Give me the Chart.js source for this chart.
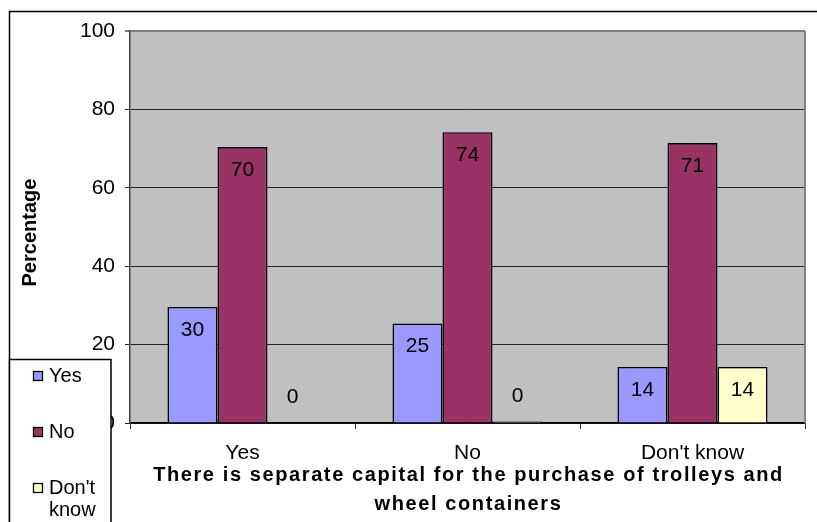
<!DOCTYPE html>
<html>
<head>
<meta charset="utf-8">
<script src="https://cdn.jsdelivr.net/npm/chart.js@4"></script>
<style>
  html, body { margin: 0; padding: 0; background: #fff; }
  #wrap { position: relative; width: 817px; height: 522px; }
</style>
</head>
<body>
<div id="wrap"><canvas id="c" width="817" height="522"></canvas></div>
<script>
const categories = ['Yes', 'No', "Don't know"];
const seriesNames = ['Yes', 'No', "Don't know"];
const yesValues = [29.6, 25.4, 14.3];
const noValues = [70.4, 74.2, 71.4];
const dontKnowValues = [0, 0.4, 14.3];
const yTicks = [0, 20, 40, 60, 80, 100];
const xTitleLines = ['There is separate capital for the purchase of trolleys and', 'wheel containers'];
const yTitle = 'Percentage';
const seriesColors = ['#9999FF', '#993366', '#FFFFCC'];

const FONT = "'Liberation Sans', Arial, sans-serif";

const bgPlugin = {
  id: 'bg',
  beforeDraw(chart) {
    const { ctx, chartArea: a } = chart;
    ctx.save();
    ctx.fillStyle = '#C0C0C0';
    ctx.fillRect(a.left, a.top, a.right - a.left, a.bottom - a.top);
    ctx.restore();
  },
  afterDraw(chart) {
    const { ctx, chartArea: a } = chart;
    ctx.save();
    // right border of plot
    ctx.strokeStyle = '#808080';
    ctx.lineWidth = 2;
    ctx.beginPath();
    ctx.moveTo(a.right, a.top);
    ctx.lineTo(a.right, a.bottom);
    ctx.stroke();
    // x axis title (two lines, spaced letters)
    ctx.fillStyle = '#000';
    ctx.font = 'bold 20px ' + FONT;
    ctx.textAlign = 'center';
    ctx.textBaseline = 'middle';
    if ('letterSpacing' in ctx) ctx.letterSpacing = '1.6px';
    const cx = (a.left + a.right) / 2 + 1;
    xTitleLines.forEach((t, i) => ctx.fillText(t, cx, 475 + i * 29));
    if ('letterSpacing' in ctx) ctx.letterSpacing = '0px';
    // outer frame
    ctx.strokeStyle = '#000';
    ctx.lineWidth = 1.5;
    ctx.beginPath();
    ctx.moveTo(9.5, 522);
    ctx.lineTo(9.5, 11.5);
    ctx.lineTo(817, 11.5);
    ctx.stroke();
    // legend box
    ctx.fillStyle = '#fff';
    ctx.fillRect(9.5, 359.5, 101.5, 200);
    ctx.strokeRect(9.5, 359.5, 101.5, 200);
    const centers = [376, 432, 488];
    ctx.font = '20px ' + FONT;
    ctx.textBaseline = 'middle';
    ctx.textAlign = 'left';
    chart.data.datasets.forEach((ds, i) => {
      const cy = centers[i];
      ctx.fillStyle = ds.backgroundColor;
      ctx.fillRect(33.5, cy - 4.5, 9, 9);
      ctx.lineWidth = 1.3;
      ctx.strokeStyle = '#000';
      ctx.strokeRect(33.5, cy - 4.5, 9, 9);
      ctx.fillStyle = '#000';
      const words = ds.label.split(' ');
      if (ctx.measureText(ds.label).width > 58 && words.length > 1) {
        ctx.fillText(words[0], 49, cy);
        ctx.fillText(words.slice(1).join(' '), 49, cy + 22);
      } else {
        ctx.fillText(ds.label, 49, cy);
      }
    });
    ctx.restore();
  },
  afterDatasetsDraw(chart) {
    const { ctx } = chart;
    ctx.save();
    ctx.font = '21px ' + FONT;
    ctx.fillStyle = '#000';
    ctx.textAlign = 'center';
    ctx.textBaseline = 'middle';
    chart.data.datasets.forEach((ds, di) => {
      const meta = chart.getDatasetMeta(di);
      meta.data.forEach((bar, i) => {
        const v = ds.data[i];
        const label = String(Math.round(v));
        const y = v > 3 ? bar.y + 23 : bar.base - 26;
        ctx.fillText(label, bar.x, y);
      });
    });
    ctx.restore();
  }
};

new Chart(document.getElementById('c'), {
  type: 'bar',
  data: {
    labels: categories,
    datasets: [
      { label: seriesNames[0], data: yesValues, backgroundColor: seriesColors[0] },
      { label: seriesNames[1], data: noValues, backgroundColor: seriesColors[1] },
      { label: seriesNames[2], data: dontKnowValues, backgroundColor: seriesColors[2] }
    ].map(d => Object.assign(d, { borderColor: '#000', borderWidth: 1.6, categoryPercentage: 0.667, barPercentage: 1.0 }))
  },
  options: {
    responsive: false,
    animation: false,
    devicePixelRatio: 1,
    layout: { padding: { top: 31, right: 12, left: 0, bottom: 0 } },
    plugins: { legend: { display: false }, tooltip: { enabled: false } },
    scales: {
      x: {
        grid: { drawOnChartArea: false, drawTicks: true, tickLength: 6, color: '#333', offset: true },
        border: { color: '#000', width: 1.5 },
        ticks: { color: '#000', font: { family: FONT, size: 21 }, padding: 12 },
        title: { display: false },
        afterFit(scale) { scale.height = 99; }
      },
      y: {
        min: 0, max: 100,
        afterBuildTicks(scale) { scale.ticks = yTicks.map(v => ({ value: v })); },
        grid: { color: (c) => (c.tick && c.tick.value === 100 ? '#808080' : '#222'), lineWidth: (c) => (c.tick && c.tick.value === 100 ? 2 : 1), tickLength: 5, drawTicks: true },
        border: { color: '#404040', width: 1.5 },
        ticks: { color: '#000', font: { family: FONT, size: 21 }, padding: 10 },
        title: { display: true, text: yTitle + '  ', color: '#000', font: { family: FONT, size: 20, weight: 'bold', lineHeight: 1.2 }, padding: { top: 18, bottom: 0 } },
        afterFit(scale) { scale.width = 130; }
      }
    }
  },
  plugins: [bgPlugin]
});
</script>
</body>
</html>
